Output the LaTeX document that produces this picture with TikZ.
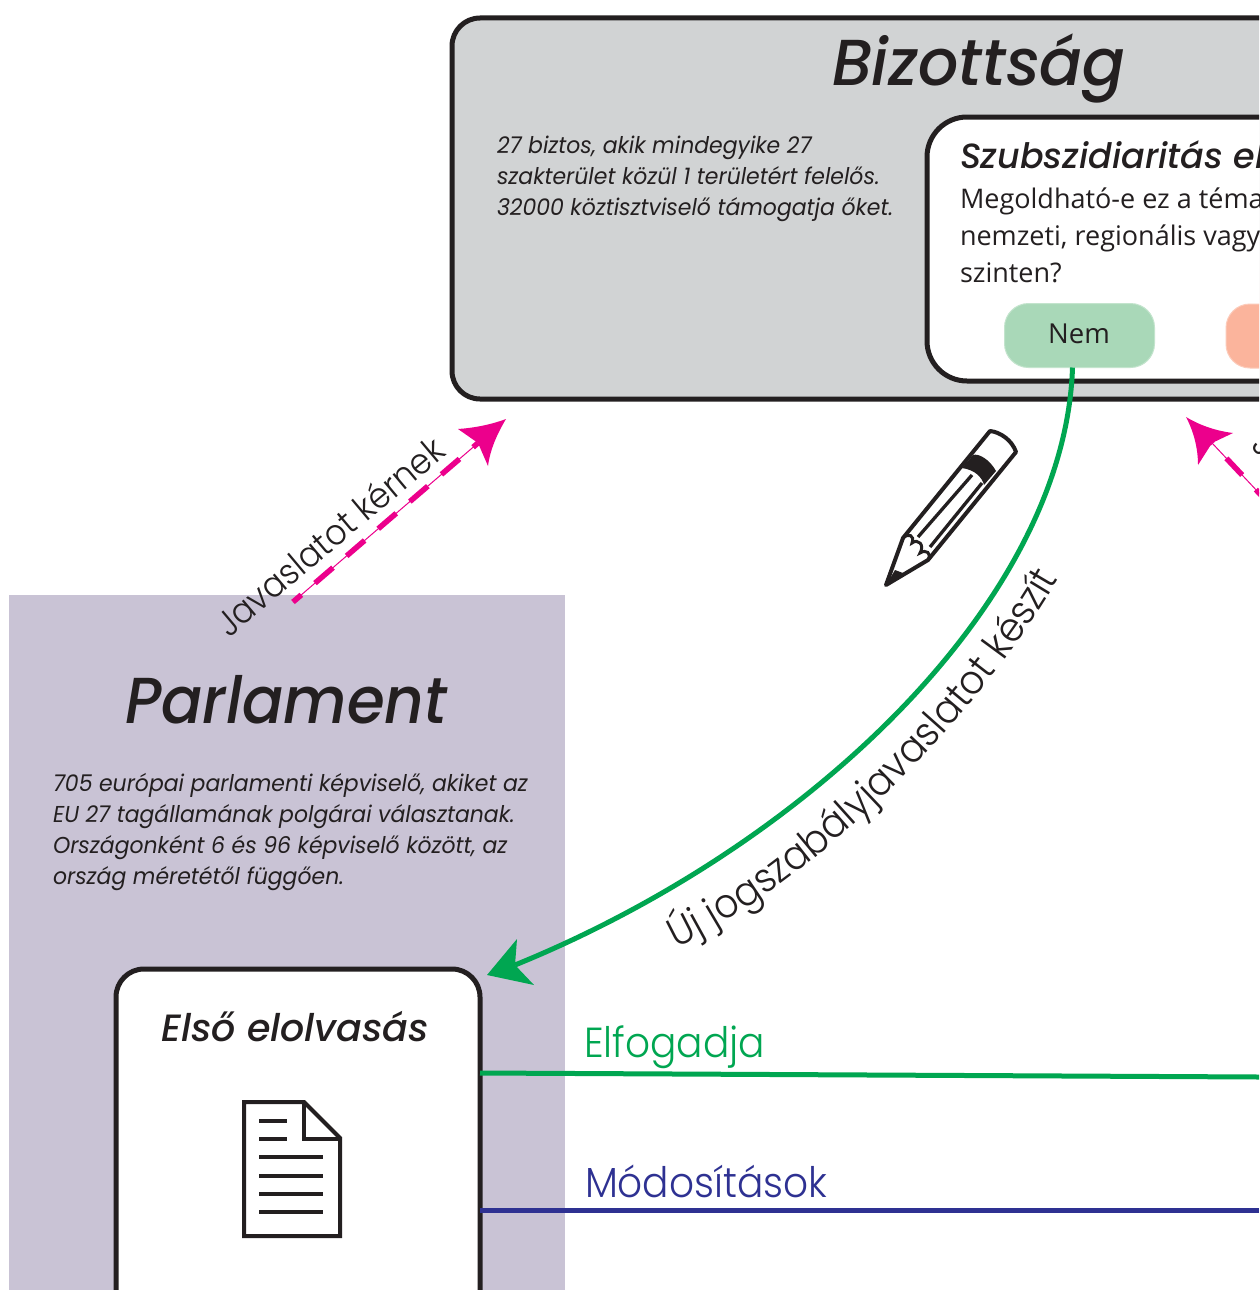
\documentclass[tikz,border=0pt]{standalone}
\usepackage{fontspec}
\usetikzlibrary{decorations.text}
\setmainfont{Poppins}[FakeStretch=0.955]
\newfontfamily\bodyf{Open Sans}
\newfontfamily\litf{Poppins Light}[FakeStretch=0.93]
\newfontfamily\bizf{Poppins Medium Italic}[FakeStretch=0.975]
\newfontfamily\parf{Poppins Medium Italic}[FakeStretch=0.94]
\newfontfamily\szubf{Poppins Medium Italic}[FakeStretch=1.0]
\newfontfamily\elsof{Poppins Medium Italic}[FakeStretch=1.0]
\definecolor{ink}{HTML}{231F20}
\definecolor{gp}{HTML}{D1D3D4}
\definecolor{lav}{HTML}{C9C3D5}
\definecolor{grn}{HTML}{00A651}
\definecolor{blu}{HTML}{2E3192}
\definecolor{mag}{HTML}{EC008C}
\definecolor{mint}{HTML}{A9D8B8}
\definecolor{peach}{HTML}{FBB49C}
\newcommand{\fs}[2]{\fontsize{#1pt}{#2pt}\selectfont}
\tikzset{
  x=1pt,y=-1pt,
  panel/.style={draw=ink,line width=5pt,fill=#1,inner sep=0pt,outer sep=0pt,anchor=north west},
  txt/.style={inner sep=0pt,outer sep=0pt,text=ink},
  left txt/.style={txt,anchor=north west,align=left},
  conn/.style={line width=5pt,line cap=butt},
  thinmag/.style={draw=mag,line width=1pt},
  pill/.style={draw=#1!70!white,line width=1pt,fill=#1,rounded corners=24pt,inner sep=0pt,outer sep=0pt,anchor=north west,minimum width=150pt,minimum height=64pt},
  rot/.style={txt,anchor=base west},
  icon/.style={draw=ink,line width=4pt},
}
\begin{document}
\begin{tikzpicture}
\useasboundingbox (0,0) rectangle (1259,1290);
\clip (0,0) rectangle (1259,1290);
\fill[white] (0,0) rectangle (1259,1290);
% panels
\node[panel=lav,draw=none,minimum width=556pt,minimum height=710pt] (parl) at (9,595) {};
\node[panel=gp,rounded corners=28pt,minimum width=900pt,minimum height=381pt] (biz) at (452,18) {};
\node[panel=white,rounded corners=40pt,minimum width=500pt,minimum height=264pt] (szub) at (927,117) {};
\node[panel=white,rounded corners=28pt,minimum width=364pt,minimum height=500pt] (elso) at (116,969) {};
% titles
\node[txt,anchor=base west,font=\bizf\fs{65}{65}] (bizt) at (832,85) {Bizottság};
\node[txt,anchor=base west,font=\parf\fs{65}{65}] (parlt) at (125,723) {Parlament};
% description texts
\node[left txt,font=\fs{23}{31}\itshape] (bizd) at (497,136) {27 biztos, akik mindegyike 27\\szakterület közül 1 területért felelős.\\32000 köztisztviselő támogatja őket.};
\node[left txt,font=\fs{23}{31}\itshape] (parld) at (53,773) {705 európai parlamenti képviselő, akiket az\\EU 27 tagállamának polgárai választanak.\\Országonként 6 és 96 képviselő között, az\\ország méretétől függően.};
\node[txt,anchor=base west,font=\szubf\fs{35}{35}] (szubt) at (960,168) {Szubszidiaritás elve};
\node[left txt,font=\bodyf\fs{27}{37}] (szubq) at (960,188) {Megoldható-e ez a téma\\nemzeti, regionális vagy\\szinten?};
\node[txt,anchor=base,font=\elsof\fs{38}{38}] (elsot) at (295,1041) {Első elolvasás};
% pills
\node[pill=mint] (nem) at (1004.5,303.5) {};
\node[txt,font=\bodyf\fs{27.5}{30}] (nemt) at (1079,334) {Nem};
\node[pill=peach] (igen) at (1226,304) {};
% connectors
\coordinate (greentip) at (515,965);
\draw[grn,conn] ([xshift=-7pt]nem.south) .. controls (1065,600) and (810,845) .. (greentip);
\fill[grn] (487,975) -- (517,939) -- (515,965) -- (534,985) -- cycle;
\coordinate (afrom) at (480,1073); \coordinate (ato) at (1259,1077);
\coordinate (mfrom) at (480,1210); \coordinate (mto) at (1259,1210);
\draw[grn,conn] (afrom) -- (ato);
\draw[blu,conn] (mfrom) -- (mto);
\node[rot,font=\litf\fs{42}{42},text=grn] (elf) at (584,1057) {Elfogadja};
\node[rot,font=\litf\fs{42}{42},text=blu] (mod) at (585,1197) {Módosítások};
% curved label
\path[decorate,decoration={text along path,raise=0pt,text align=left,
  text={|\litf\fs{40.5}{40.5}\color{ink}|Új jogszabályjavaslatot készít}}]
  (676,948) .. controls (822,878) and (988,708) .. (1066,565);
% magenta arrows
\coordinate (p1) at (293,602); \coordinate (p2) at (478,443);
\draw[thinmag] (p1) -- (p2);
\draw[mag,line width=5.5pt,dash pattern=on 23.7pt off 18pt,dash phase=12.7pt] (p1) -- (p2);
\fill[mag] (506,419) .. controls (490,425) and (473,428) .. (458,429) -- (478,443) -- (488,466) .. controls (490,450) and (497,434) .. cycle;
\node[rot,font=\litf\fs{35.5}{35.5},rotate=40] (jav1) at (229,638) {Javaslatot kérnek};
\coordinate (q2) at (1212,443); \coordinate (q1) at (1275,510);
\draw[thinmag] (q2) -- (q1);
\draw[mag,line width=5.5pt,dash pattern=on 23pt off 20pt,dash phase=22pt] (q2) -- (q1);
\fill[mag] (1186,417) .. controls (1201,426) and (1217,431) .. (1233,433) -- (1212,443) -- (1198,465) .. controls (1198,449) and (1194,432) .. cycle;
\node[rot,font=\litf\fs{35.5}{35.5},rotate=-50] (jav2) at (1250,446) {Javaslatot};
% pencil
\draw[icon,line join=round] (886,585) -- (903,538) -- (990,431) .. controls (1000,432) and (1012,440) .. (1016,452) -- (928,560) -- cycle;
\fill[ink] (973,455) .. controls (979,453) and (990,460) .. (996,471) -- (984,485) .. controls (982,477) and (975,470) .. (962,468) -- cycle;
\fill[ink] (886,585) -- (895,570) -- (903,573) -- cycle;
\draw[ink,line width=3.3pt] (918,537) -- (972,475);
\draw[ink,line width=3.3pt] (930,547) -- (982,483);
\draw[ink,line width=3pt] (903,538) .. controls (908,533) and (915,535) .. (912,543) .. controls (918,538) and (925,545) .. (920,553) .. controls (926,549) and (932,553) .. (928,560);
% document
\draw[icon,fill=white] (244,1102) -- (304,1102) -- (340,1138) -- (340,1236) -- (244,1236) -- cycle;
\draw[icon] (304,1102) -- (304,1139) -- (340,1139);
\foreach \yy in {1121,1139}{\draw[ink,line width=4pt] (259,\yy) -- (287,\yy);}
\foreach \yy in {1157,1176,1194,1212}{\draw[ink,line width=4pt] (259,\yy) -- (323,\yy);}
\end{tikzpicture}
\end{document}
